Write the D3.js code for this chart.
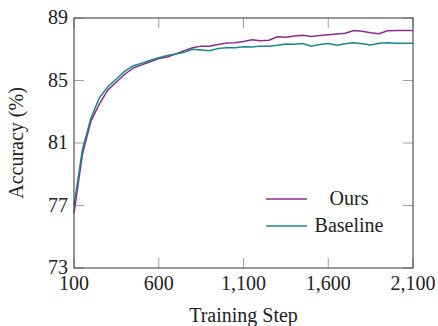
<!DOCTYPE html>
<html>
<head>
<meta charset="utf-8">
<script src="https://cdn.jsdelivr.net/npm/d3@7"></script>
<style>
  body { margin: 0; background: #fff; }
  svg text { font-family: "Liberation Serif", "Times New Roman", serif; fill: #222; }
</style>
</head>
<body>
<div id="chart"></div>
<script>
'use strict'
var steps = d3.range(100, 2101, 50)
var ours = [76.5, 80.3, 82.4, 83.5, 84.4, 84.9, 85.4, 85.8, 86.0, 86.2, 86.4,
  86.5, 86.7, 86.9, 87.1, 87.2, 87.2, 87.3, 87.4, 87.42, 87.5,
  87.6, 87.55, 87.58, 87.8, 87.77, 87.85, 87.9, 87.82, 87.88, 87.93,
  87.98, 88.03, 88.2, 88.15, 88.05, 88.0, 88.18, 88.2, 88.2, 88.2]
var baseline = [77.0, 80.6, 82.6, 83.9, 84.6, 85.1, 85.6, 85.95, 86.1, 86.3, 86.45,
  86.6, 86.7, 86.8, 87.0, 86.95, 86.9, 87.05, 87.1, 87.1, 87.16,
  87.14, 87.2, 87.2, 87.25, 87.34, 87.32, 87.36, 87.2, 87.3, 87.36,
  87.26, 87.35, 87.42, 87.35, 87.27, 87.38, 87.42, 87.38, 87.38, 87.38]
var xTicks = [100, 600, 1100, 1600, 2100]
var yTicks = [73, 77, 81, 85, 89]
var series = [
  {name: 'Ours', values: ours, color: '#8e2b8e'},
  {name: 'Baseline', values: baseline, color: '#178a88'}
]

var W = 438, H = 326
var m = {left: 74, right: 25, top: 18, bottom: 58}
var svg = d3.select('#chart').append('svg').attr('width', W).attr('height', H)

var x = d3.scaleLinear().domain([100, 2100]).range([m.left, W - m.right])
var y = d3.scaleLinear().domain([73, 89]).range([H - m.bottom, m.top])
var fmt = d3.format(',')
var fs = 20

// tick marks (inside, all four sides)
var tk = 10
var tickColor = '#a0a0a0'
xTicks.forEach(t => {
  svg.append('line').attr('x1', x(t)).attr('x2', x(t)).attr('y1', y(73)).attr('y2', y(73) - tk)
    .attr('stroke', tickColor).attr('stroke-width', 1)
  svg.append('line').attr('x1', x(t)).attr('x2', x(t)).attr('y1', y(89)).attr('y2', y(89) + tk)
    .attr('stroke', tickColor).attr('stroke-width', 1)
})
yTicks.forEach(t => {
  svg.append('line').attr('x1', x(100)).attr('x2', x(100) + tk).attr('y1', y(t)).attr('y2', y(t))
    .attr('stroke', tickColor).attr('stroke-width', 1)
  svg.append('line').attr('x1', x(2100)).attr('x2', x(2100) - tk).attr('y1', y(t)).attr('y2', y(t))
    .attr('stroke', tickColor).attr('stroke-width', 1)
})

// lines
var line = d3.line().x((d, i) => x(steps[i])).y(d => y(d))
series.forEach(s => {
  svg.append('path').attr('d', line(s.values))
    .attr('fill', 'none').attr('stroke', s.color).attr('stroke-width', 1.5)
})

// frame
svg.append('rect').attr('x', x(100)).attr('y', y(89))
  .attr('width', x(2100) - x(100)).attr('height', y(73) - y(89))
  .attr('fill', 'none').attr('stroke', '#444').attr('stroke-width', 1.1)

// tick labels
xTicks.forEach(t => {
  svg.append('text').attr('x', x(t)).attr('y', y(73) + 22)
    .attr('text-anchor', 'middle').attr('font-size', fs).text(fmt(t))
})
yTicks.forEach(t => {
  svg.append('text').attr('x', x(100) - 6).attr('y', y(t) + 6)
    .attr('text-anchor', 'end').attr('font-size', fs).text(t)
})

// axis titles
svg.append('text').attr('x', (x(100) + x(2100)) / 2).attr('y', 322)
  .attr('text-anchor', 'middle').attr('font-size', fs).text('Training Step')
svg.append('text').attr('transform', `translate(23,${(y(73) + y(89)) / 2}) rotate(-90)`)
  .attr('text-anchor', 'middle').attr('font-size', fs).text('Accuracy (%)')

// legend
series.forEach((s, i) => {
  var ly = 199 + i * 27
  svg.append('line').attr('x1', 266).attr('x2', 307).attr('y1', ly).attr('y2', ly)
    .attr('stroke', s.color).attr('stroke-width', 1.5)
  svg.append('text').attr('x', 349).attr('y', ly + 6)
    .attr('text-anchor', 'middle').attr('font-size', fs).text(s.name)
})
</script>
</body>
</html>
